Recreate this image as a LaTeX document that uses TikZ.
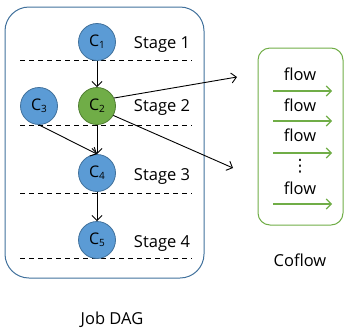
\documentclass[tikz,border=0pt]{standalone}
\usepackage{fontspec}
\setmainfont{Open Sans}
\newfontfamily\djv{DejaVu Sans}
\usetikzlibrary{arrows.meta}
\definecolor{cblue}{HTML}{5B9BD5}
\definecolor{cbluedk}{HTML}{41719C}
\definecolor{cgreen}{HTML}{70AD47}
\definecolor{cgreendk}{HTML}{507E32}
\tikzset{
  job/.style={circle, minimum size=37pt, inner sep=0pt, fill=cblue, draw=cbluedk, line width=0.8pt, font=\fontsize{16}{18}\selectfont},
  jobg/.style={job, fill=cgreen, draw=cgreendk},
  lbl/.style={font=\fontsize{16.5}{19}\selectfont, inner sep=0pt},
  sep/.style={dashed, line width=0.9pt, dash pattern=on 5pt off 4pt},
  arr/.style={-{Straight Barb[length=5pt,width=10pt]}, line width=0.9pt},
  farr/.style={-{Straight Barb[length=5pt,width=10pt]}, line width=1.1pt, draw=cgreen},
}
\newcommand{\cn}[1]{C\raisebox{-0.25ex}{\fontsize{10}{12}\selectfont #1}}
\begin{document}
\begin{tikzpicture}[x=1pt,y=-1pt]
\useasboundingbox (0,0) rectangle (344,330);
\draw[cbluedk, line width=1pt, rounded corners=24pt] (5,7) rectangle (204,278);
\draw[cgreen, line width=1pt, rounded corners=12pt] (258,48) rectangle (343,225);
\foreach \y in {60,125,193,258} \draw[sep] (20,\y) -- (192,\y);
\node[job] (c1) at (97,42) {\cn{1}};
\node[jobg] (c2) at (97,106) {\cn{2}};
\node[job] (c3) at (39,106) {\cn{3}};
\node[job] (c4) at (97,173) {\cn{4}};
\node[job] (c5) at (97,240) {\cn{5}};
\node[lbl] (s1) at (162,45) {Stage 1};
\node[lbl] (s2) at (162,108) {Stage 2};
\node[lbl] (s3) at (162,176) {Stage 3};
\node[lbl] (s4) at (162,243) {Stage 4};
\draw[arr] (c1) -- (c2);
\draw[arr] (c2) -- (c4);
\draw[arr] (c3.south) -- (c4.north);
\draw[arr] (c4) -- (c5);
\coordinate (t1) at (237,77);
\coordinate (t2) at (233,168);
\draw[arr] (c2.25) -- (t1);
\draw[arr] (c2.-30) -- (t2);
\node[lbl] (f1) at (300,74) {flow};
\node[lbl] (f2) at (300,105) {flow};
\node[lbl] (f3) at (300,135) {flow};
\node[font=\djv\fontsize{17}{17}\selectfont, inner sep=0pt] (fd) at (300,166) {⋮};
\node[lbl] (f4) at (300,188) {flow};
\foreach \y/\n in {91/a,121/b,153/c,204/d} {
  \coordinate (fa\n) at (273,\y);
  \coordinate (fb\n) at (332,\y);
  \draw[farr] (fa\n) -- (fb\n);
}
\node[lbl] (cf) at (300,260) {Coflow};
\node[lbl] (jd) at (112,320) {Job DAG};
\end{tikzpicture}
\end{document}
